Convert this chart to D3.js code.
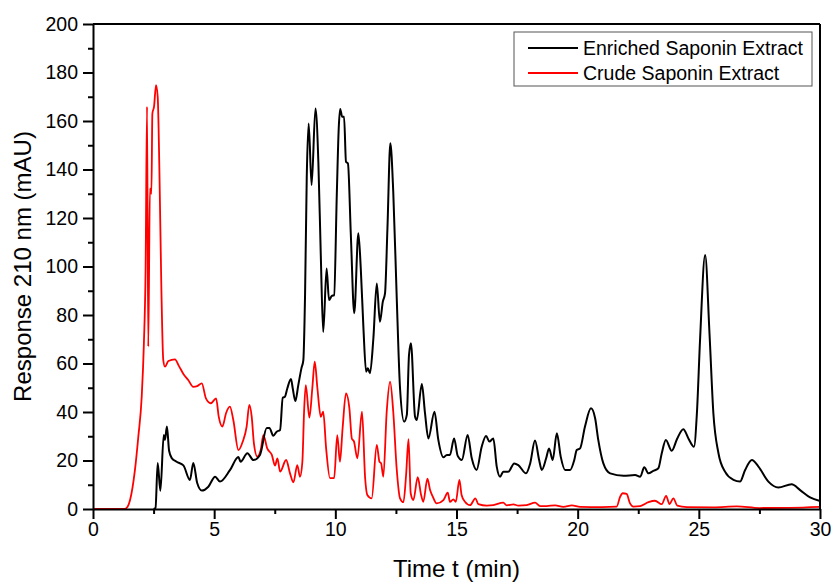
<!DOCTYPE html>
<html>
<head>
<meta charset="utf-8">
<script src="https://cdn.jsdelivr.net/npm/d3@7"></script>
<style>
    body { margin: 0; background: #fff; }
    svg { font-family: "Liberation Sans", Arial, sans-serif; }
    .axis path, .axis line { stroke: #000; stroke-width: 2; }
    .axis text { font-size: 19.5px; fill: #000; }
</style>
</head>
<body>
<div id="chart"></div>
<script>
// retention times (min) and responses (mAU)
const enrichedTime = [2.5, 2.58, 2.67, 2.78, 2.92, 2.97, 3.05, 3.14, 3.25, 3.45, 3.73, 4.0, 4.14, 4.3, 4.49, 4.76, 5.04, 5.24, 5.65, 6.0, 6.09, 6.37, 6.62, 6.89, 7.17, 7.28, 7.44, 7.58, 7.72, 7.83, 7.92, 8.02, 8.17, 8.24, 8.35, 8.47, 8.6, 8.68, 8.75, 8.82, 8.9, 9.02, 9.18, 9.3, 9.4, 9.5, 9.64, 9.74, 9.85, 9.95, 10.06, 10.14, 10.2, 10.28, 10.36, 10.44, 10.52, 10.64, 10.78, 10.95, 11.05, 11.16, 11.27, 11.34, 11.43, 11.57, 11.71, 11.84, 11.96, 12.05, 12.15, 12.27, 12.39, 12.53, 12.67, 12.84, 12.95, 13.04, 13.12, 13.29, 13.36, 13.57, 13.7, 13.84, 14.09, 14.25, 14.46, 14.6, 14.73, 14.9, 15.05, 15.22, 15.46, 15.63, 15.83, 16.04, 16.22, 16.36, 16.52, 16.66, 16.8, 16.93, 17.14, 17.38, 17.55, 17.87, 18.04, 18.24, 18.41, 18.52, 18.7, 18.82, 18.97, 19.14, 19.3, 19.48, 19.69, 19.86, 19.96, 20.1, 20.3, 20.55, 20.72, 20.85, 21.06, 21.34, 21.89, 22.37, 22.58, 22.75, 22.92, 23.12, 23.33, 23.47, 23.64, 23.88, 24.11, 24.36, 24.57, 24.8, 24.92, 25.05, 25.26, 25.44, 25.6, 25.81, 26.08, 26.43, 26.7, 26.91, 27.19, 27.46, 27.87, 28.28, 28.83, 29.18, 29.59, 30];
const enrichedResponse = [0, 0.5, 19, 7.5, 30.5, 28.5, 34, 24, 21, 19.5, 18, 12, 19, 10.7, 7.6, 9.2, 13.3, 11.3, 16, 21.4, 19.5, 23, 20.2, 22.3, 33.4, 33.4, 30.2, 31.9, 32.6, 45.9, 46.3, 49.8, 53.6, 49.9, 44.5, 51, 58, 61.4, 88, 136.5, 159, 133.6, 165.2, 143, 104.7, 73, 99.2, 86.2, 87.8, 88.2, 129.5, 157, 165, 161.8, 161.8, 143.2, 142.5, 113, 80.7, 113.7, 99.2, 74.5, 56.6, 58, 56, 70.4, 93, 77.2, 85.5, 88.9, 115.7, 150.8, 130.8, 88.2, 49.8, 36, 38.8, 63.5, 68.3, 38, 36.7, 51.5, 39.5, 29.1, 40.1, 28.5, 21.3, 22.3, 22.3, 29.1, 21.9, 20.2, 30.5, 20.9, 16.1, 25.7, 30.1, 27.8, 29.1, 17.5, 13.3, 15.4, 15.4, 18.8, 18.1, 14.7, 18.8, 28.2, 20.2, 16.1, 20.9, 25, 20.2, 31.2, 21.6, 16.1, 16.1, 20.2, 24.3, 25, 33.9, 41.5, 37.4, 28.5, 18.8, 14.7, 13.7, 14, 13.3, 17.2, 14.7, 15.7, 16.8, 23, 28.5, 24, 29.1, 32.9, 29.1, 25.7, 39.5, 69.7, 104.7, 72.4, 39.5, 23, 15.4, 12, 11.3, 16.1, 20.2, 17.5, 11.3, 8.9, 10.2, 7.8, 4.8, 3.3];

const crudeTime = [0, 1.3, 1.42, 1.53, 1.73, 1.87, 2.01, 2.1, 2.17, 2.23, 2.28, 2.35, 2.41, 2.45, 2.52, 2.6, 2.67, 2.74, 2.82, 2.9, 2.97, 3.11, 3.38, 3.56, 3.73, 3.93, 4.14, 4.3, 4.49, 4.66, 4.86, 5.08, 5.19, 5.34, 5.49, 5.65, 5.79, 6.0, 6.18, 6.34, 6.45, 6.55, 6.64, 6.78, 6.92, 7.03, 7.19, 7.38, 7.51, 7.61, 7.72, 7.97, 8.13, 8.27, 8.43, 8.54, 8.64, 8.71, 8.78, 8.93, 9.05, 9.15, 9.26, 9.4, 9.5, 9.62, 9.78, 9.95, 10.08, 10.19, 10.3, 10.44, 10.58, 10.68, 10.77, 10.91, 11.1, 11.23, 11.32, 11.5, 11.71, 11.82, 11.89, 11.98, 12.12, 12.26, 12.39, 12.53, 12.67, 12.81, 12.92, 13.02, 13.11, 13.22, 13.4, 13.54, 13.63, 13.8, 13.91, 14.02, 14.18, 14.46, 14.64, 14.73, 14.87, 14.97, 15.12, 15.21, 15.35, 15.56, 15.78, 15.9, 16.25, 16.52, 16.93, 17.07, 17.35, 17.55, 17.9, 18.24, 18.45, 18.72, 19.07, 19.41, 19.76, 20.1, 21.0, 21.61, 21.75, 21.86, 22.02, 22.16, 22.3, 22.58, 22.92, 23.19, 23.47, 23.65, 23.79, 23.95, 24.11, 24.5, 25.6, 26.57, 27.5, 28.76, 30];
const crudeResponse = [0, 0, 0.8, 3.7, 16, 29.8, 46.3, 68.3, 98.6, 165.9, 67, 132.2, 130, 163, 166, 174.8, 170, 139.8, 91.7, 61.4, 58.7, 61, 61.7, 58.7, 55.7, 53.2, 50.4, 50.7, 51.8, 45.6, 43.6, 45.6, 38, 34, 39.5, 42.2, 36.7, 24.3, 27.8, 34, 42.9, 38, 27.1, 21.6, 24.3, 30.5, 25, 22.3, 17.9, 20.9, 15.4, 20.2, 14.7, 11, 18.1, 13.3, 19.5, 40.1, 51.1, 37.7, 49.8, 60.8, 49.8, 38, 40.1, 25, 12.7, 12.7, 30.5, 19.5, 33.3, 47.7, 41.5, 29.1, 27.8, 20.9, 40.1, 12.7, 5.8, 4.4, 26.4, 19.5, 18.8, 13.3, 40.1, 52.5, 40.1, 16.8, 4.4, 2.8, 14, 28.8, 6.5, 3.7, 13.1, 5.8, 3, 12.5, 7.8, 5.1, 2.3, 3.7, 6.7, 3, 4, 3, 12, 5.8, 3, 1.6, 4.4, 2, 1.4, 1.6, 2.6, 1.5, 1.9, 1.4, 1.6, 2.6, 1.2, 1.2, 1.5, 0.9, 1.5, 0.9, 0.8, 1, 5, 6.5, 6.2, 2.3, 1, 1.2, 2.8, 3.4, 2, 5.4, 2, 4.4, 1.4, 0.8, 0.7, 1.1, 0.4, 0.5, 0.9];

const seriesNames = ["Enriched Saponin Extract", "Crude Saponin Extract"];
const seriesColors = ["#000000", "#ff0000"];

const xTicks = [0, 5, 10, 15, 20, 25, 30];
const xMinorTicks = [2.5, 7.5, 12.5, 17.5, 22.5, 27.5];
const yTicks = [0, 20, 40, 60, 80, 100, 120, 140, 160, 180, 200];
const yMinorTicks = [10, 30, 50, 70, 90, 110, 130, 150, 170, 190];

const config = {
    width: 832,
    height: 582,
    margin: { top: 24, right: 12, bottom: 73, left: 93 },
};

const innerW = config.width - config.margin.left - config.margin.right;
const innerH = config.height - config.margin.top - config.margin.bottom;

const svg = d3.select('#chart')
    .append('svg')
    .attr('width', config.width)
    .attr('height', config.height);

const g = svg.append('g')
    .attr('transform', `translate(${config.margin.left},${config.margin.top})`);

const x = d3.scaleLinear().domain([0, 30]).range([0, innerW]);
const y = d3.scaleLinear().domain([0, 200]).range([innerH, 0]);

// traces first, frame on top
const line = d3.line()
    .x(d => x(d[0]))
    .y(d => y(d[1]))
    .curve(d3.curveMonotoneX);

const enriched = d3.zip(enrichedTime, enrichedResponse);
const crude = d3.zip(crudeTime, crudeResponse);

g.append('path')
    .datum(crude)
    .attr('fill', 'none')
    .attr('stroke', seriesColors[1])
    .attr('stroke-width', 1.8)
    .attr('stroke-linejoin', 'round')
    .attr('d', line);

g.append('path')
    .datum(enriched)
    .attr('fill', 'none')
    .attr('stroke', seriesColors[0])
    .attr('stroke-width', 2)
    .attr('stroke-linejoin', 'round')
    .attr('d', line);

// minor ticks
g.append('g')
    .attr('class', 'axis')
    .attr('transform', `translate(0,${innerH})`)
    .call(d3.axisBottom(x).tickValues(xMinorTicks).tickSize(5).tickSizeOuter(0).tickFormat(''))
    .call(s => s.select('.domain').remove());

g.append('g')
    .attr('class', 'axis')
    .call(d3.axisLeft(y).tickValues(yMinorTicks).tickSize(5).tickSizeOuter(0).tickFormat(''))
    .call(s => s.select('.domain').remove());

// major axes
g.append('g')
    .attr('class', 'axis')
    .attr('transform', `translate(0,${innerH})`)
    .call(d3.axisBottom(x).tickValues(xTicks).tickSize(10).tickSizeOuter(0).tickPadding(3));

g.append('g')
    .attr('class', 'axis')
    .call(d3.axisLeft(y).tickValues(yTicks).tickSize(10).tickSizeOuter(0).tickPadding(5));

// top and right frame
g.append('line')
    .attr('x1', 0).attr('x2', innerW)
    .attr('y1', 0).attr('y2', 0)
    .attr('stroke', '#000').attr('stroke-width', 2);

g.append('line')
    .attr('x1', innerW).attr('x2', innerW)
    .attr('y1', 0).attr('y2', innerH)
    .attr('stroke', '#000').attr('stroke-width', 2);

// axis titles
svg.append('text')
    .attr('x', config.margin.left + innerW / 2)
    .attr('y', 577)
    .attr('text-anchor', 'middle')
    .attr('font-size', 24)
    .text('Time t (min)');

svg.append('text')
    .attr('transform', `translate(31,${config.margin.top + innerH / 2}) rotate(-90)`)
    .attr('text-anchor', 'middle')
    .attr('font-size', 24)
    .text('Response 210 nm (mAU)');

// legend
const legend = svg.append('g')
    .attr('transform', 'translate(514,32)');

legend.append('rect')
    .attr('width', 298)
    .attr('height', 54)
    .attr('fill', '#fff')
    .attr('stroke', '#555')
    .attr('stroke-width', 1);

seriesNames.forEach((name, i) => {
    const ly = 16 + i * 25;
    legend.append('line')
        .attr('x1', 14).attr('x2', 64)
        .attr('y1', ly).attr('y2', ly)
        .attr('stroke', seriesColors[i])
        .attr('stroke-width', 1.8);
    legend.append('text')
        .attr('x', 69)
        .attr('y', ly + 7)
        .attr('font-size', 19.5)
        .text(name);
});
</script>
</body>
</html>
